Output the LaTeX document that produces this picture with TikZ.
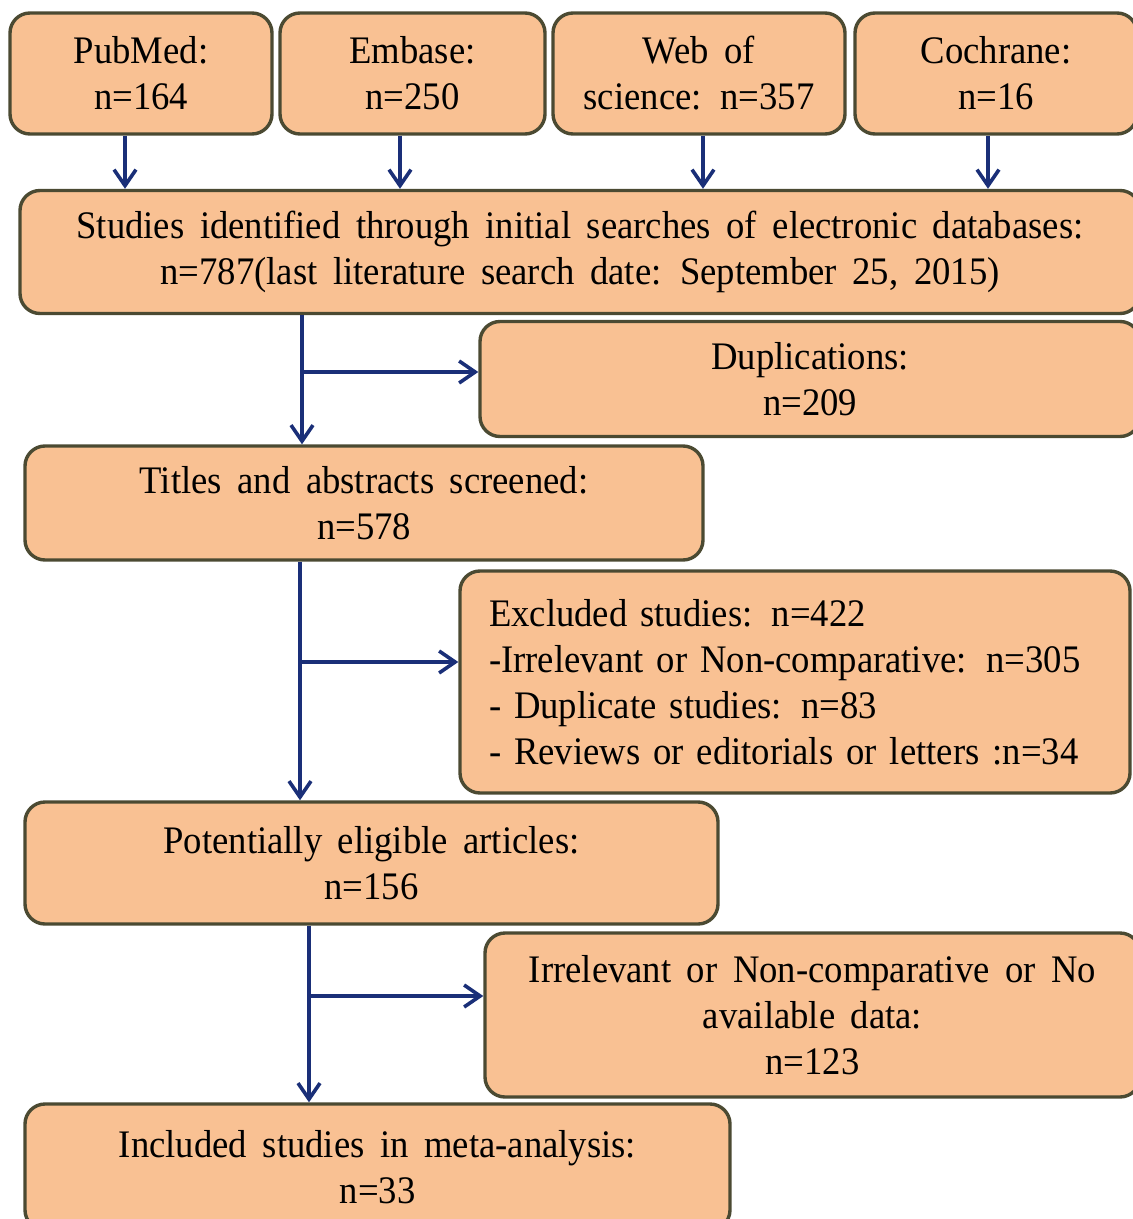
\documentclass[tikz,border=0pt]{standalone}
\usepackage{fontspec}
\setmainfont[FakeStretch=0.94, WordSpace=1.7]{Liberation Serif}
\usepackage{tikz}
\usetikzlibrary{arrows.meta}
\definecolor{boxfill}{HTML}{F9C193}
\definecolor{boxline}{HTML}{4B4A32}
\definecolor{flowblue}{HTML}{1A2F78}
\tikzset{
	box/.style={draw=boxline, fill=boxfill, line width=1.7pt, rounded corners=10pt,
		align=center, inner sep=0pt, font=\fontsize{19.5}{23}\selectfont},
	flow/.style={draw=flowblue, line width=1.8pt, -{Straight Barb[length=8pt,width=11pt,line width=1.8pt]}}
}

\begin{document}
\begin{tikzpicture}[x=0.5pt, y=-0.5pt]
	\useasboundingbox (0,0) rectangle (1133,1219);

	% sources
	\node[box, minimum width=131pt, minimum height=60.5pt] (pubmed) at (141,73.5) {PubMed:\\n=164};
	\node[box, minimum width=132.5pt, minimum height=60.5pt] (embase) at (412.5,73.5) {Embase:\\n=250};
	\node[box, minimum width=146pt, minimum height=60.5pt] (wos) at (699,73.5) {Web of\\science: n=357};
	\node[box, minimum width=141pt, minimum height=60.5pt] (cochrane) at (996,73.5) {Cochrane:\\n=16};

	\node[box, minimum width=560pt, minimum height=61.5pt] (studies) at (580,252)
		{Studies identified through initial searches of electronic databases:\\n=787(last literature search date: September 25, 2015)};
	\node[box, minimum width=330pt, minimum height=57.5pt] (dup) at (810,379) {Duplications:\\n=209};
	\node[box, minimum width=339pt, minimum height=57pt] (titles) at (364,503) {Titles and abstracts screened:\\n=578};
	\node[box, minimum width=335pt, minimum height=111pt, text width=306pt, align=left, inner xsep=14.5pt] (excl) at (795,682)
		{Excluded studies: n=422\\-Irrelevant or Non-comparative: n=305\\- Duplicate studies: n=83\\- Reviews or editorials or letters :n=34};
	\node[box, minimum width=346.5pt, minimum height=61pt] (elig) at (371.5,863) {Potentially eligible articles:\\n=156};
	\node[box, minimum width=327.5pt, minimum height=82pt] (irrel) at (812.5,1015)
		{Irrelevant or Non-comparative or No\\available data:\\n=123};
	\node[box, minimum width=352.5pt, minimum height=63pt] (incl) at (377.5,1167) {Included studies in meta-analysis:\\n=33};

	% sources to studies
	\foreach \src/\xx in {pubmed/125, embase/400, wos/703, cochrane/988}
		\draw[flow] (\src.south -| \xx,0) -- (studies.north -| \xx,0);

	% main line with side branches
	\coordinate (b1) at (302,372);
	\coordinate (b2) at (300,662);
	\coordinate (b3) at (309,996);
	\draw[flow] (studies.south -| b1) -- (titles.north -| b1);
	\draw[flow] (b1) -- (b1 -| dup.west);
	\draw[flow] (titles.south -| b2) -- (elig.north -| b2);
	\draw[flow] (b2) -- (b2 -| excl.west);
	\draw[flow] (elig.south -| b3) -- (incl.north -| b3);
	\draw[flow] (b3) -- (b3 -| irrel.west);
\end{tikzpicture}
\end{document}
